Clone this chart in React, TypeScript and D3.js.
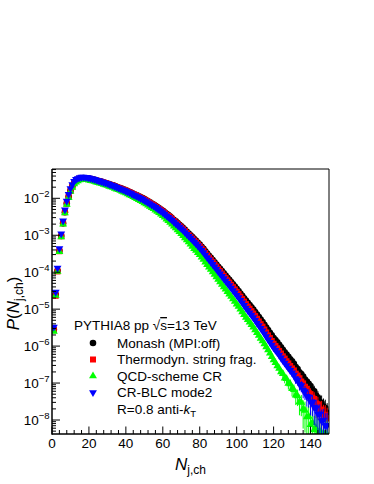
import React from 'react';
import * as d3 from 'd3';

// P(N_j,ch), bins N = 1 .. 149
const monash = [
  2.8e-6, 2.5e-5, 1.1e-4, 3.8e-4, 9.5e-4, 2.1e-3, 4.2e-3, 7.2e-3, 1.1e-2, 1.6e-2,
  2.1e-2, 2.6e-2, 2.95e-2, 3.2e-2, 3.4e-2, 3.5e-2, 3.55e-2, 3.5e-2, 3.47e-2, 3.4e-2,
  3.3e-2, 3.24e-2, 3.16e-2, 3.05e-2, 2.95e-2, 2.88e-2, 2.79e-2, 2.69e-2, 2.6e-2, 2.51e-2,
  2.4e-2, 2.32e-2, 2.24e-2, 2.14e-2, 2.04e-2, 1.97e-2, 1.88e-2, 1.8e-2, 1.72e-2, 1.64e-2,
  1.55e-2, 1.48e-2, 1.41e-2, 1.33e-2, 1.26e-2, 1.2e-2, 1.14e-2, 1.07e-2, 1.01e-2, 9.5e-3,
  8.9e-3, 8.3e-3, 7.8e-3, 7.2e-3, 6.8e-3, 6.3e-3, 5.8e-3, 5.4e-3, 5.0e-3, 4.6e-3,
  4.2e-3, 3.8e-3, 3.5e-3, 3.2e-3, 2.9e-3, 2.6e-3, 2.37e-3, 2.14e-3, 1.93e-3, 1.74e-3,
  1.56e-3, 1.4e-3, 1.25e-3, 1.12e-3, 1.0e-3, 8.9e-4, 7.9e-4, 7.1e-4, 6.3e-4, 5.6e-4,
  4.9e-4, 4.3e-4, 3.7e-4, 3.2e-4, 2.8e-4, 2.45e-4, 2.14e-4, 1.86e-4, 1.62e-4, 1.41e-4,
  1.23e-4, 1.07e-4, 9.3e-5, 8.1e-5, 7.1e-5, 6.2e-5, 5.4e-5, 4.7e-5, 4.1e-5, 3.55e-5,
  3.1e-5, 2.66e-5, 2.3e-5, 1.97e-5, 1.7e-5, 1.48e-5, 1.29e-5, 1.12e-5, 9.7e-6, 8.3e-6,
  7.1e-6, 6.1e-6, 5.2e-6, 4.5e-6, 3.8e-6, 3.2e-6, 2.7e-6, 2.3e-6, 1.95e-6, 1.66e-6,
  1.45e-6, 1.26e-6, 1.08e-6, 9.3e-7, 7.9e-7, 6.8e-7, 5.9e-7, 5.1e-7, 4.4e-7, 3.9e-7,
  3.3e-7, 2.7e-7, 2.4e-7, 1.95e-7, 1.75e-7, 1.5e-7, 1.25e-7, 1.1e-7, 9.5e-8, 8.3e-8,
  6.6e-8, 6.0e-8, 4.6e-8, 4.0e-8, 3.1e-8, 2.9e-8, 2.3e-8, 2.1e-8, 1.6e-8,
];

const thermodyn = [
  2.7e-6, 2.3e-5, 1.05e-4, 3.7e-4, 9.4e-4, 2.1e-3, 4.2e-3, 7.2e-3, 1.1e-2, 1.6e-2,
  2.1e-2, 2.6e-2, 2.95e-2, 3.2e-2, 3.4e-2, 3.5e-2, 3.55e-2, 3.5e-2, 3.46e-2, 3.39e-2,
  3.27e-2, 3.2e-2, 3.13e-2, 3.02e-2, 2.92e-2, 2.85e-2, 2.76e-2, 2.66e-2, 2.57e-2, 2.46e-2,
  2.35e-2, 2.27e-2, 2.2e-2, 2.1e-2, 2.0e-2, 1.93e-2, 1.84e-2, 1.76e-2, 1.69e-2, 1.61e-2,
  1.52e-2, 1.45e-2, 1.38e-2, 1.3e-2, 1.23e-2, 1.16e-2, 1.1e-2, 1.03e-2, 9.75e-3, 9.2e-3,
  8.6e-3, 8.0e-3, 7.5e-3, 6.95e-3, 6.55e-3, 6.0e-3, 5.55e-3, 5.15e-3, 4.78e-3, 4.4e-3,
  4.0e-3, 3.62e-3, 3.33e-3, 3.05e-3, 2.76e-3, 2.44e-3, 2.21e-3, 2.0e-3, 1.8e-3, 1.62e-3,
  1.45e-3, 1.3e-3, 1.16e-3, 1.02e-3, 9.1e-4, 8.1e-4, 7.2e-4, 6.45e-4, 5.7e-4, 5.1e-4,
  4.44e-4, 3.88e-4, 3.32e-4, 2.86e-4, 2.49e-4, 2.17e-4, 1.89e-4, 1.63e-4, 1.42e-4, 1.23e-4,
  1.07e-4, 9.2e-5, 8.0e-5, 6.9e-5, 6.0e-5, 5.25e-5, 4.55e-5, 3.94e-5, 3.42e-5, 2.95e-5,
  2.56e-5, 2.18e-5, 1.87e-5, 1.6e-5, 1.37e-5, 1.18e-5, 1.03e-5, 8.85e-6, 7.6e-6, 6.5e-6,
  5.5e-6, 4.65e-6, 3.93e-6, 3.37e-6, 2.81e-6, 2.34e-6, 1.95e-6, 1.65e-6, 1.38e-6, 1.16e-6,
  1.01e-6, 8.7e-7, 7.4e-7, 6.3e-7, 5.3e-7, 4.6e-7, 3.9e-7, 3.4e-7, 2.9e-7, 2.5e-7,
  2.2e-7, 1.8e-7, 1.6e-7, 1.35e-7, 1.1e-7, 9.8e-8, 7.9e-8, 7.0e-8, 5.4e-8, 5.0e-8,
  4.0e-8, 3.7e-8, 2.8e-8, 2.6e-8, 1.9e-8, 1.9e-8, 1.4e-8, 1.35e-8, 1.1e-8,
];

const qcdCR = [
  2.5e-6, 2.35e-5, 1.04e-4, 3.6e-4, 9.0e-4, 2.0e-3, 4.0e-3, 6.8e-3, 1.04e-2, 1.52e-2,
  1.97e-2, 2.43e-2, 2.74e-2, 2.96e-2, 3.13e-2, 3.19e-2, 3.23e-2, 3.19e-2, 3.16e-2, 3.09e-2,
  3.0e-2, 2.93e-2, 2.85e-2, 2.74e-2, 2.64e-2, 2.57e-2, 2.48e-2, 2.38e-2, 2.3e-2, 2.21e-2,
  2.1e-2, 2.03e-2, 1.95e-2, 1.86e-2, 1.77e-2, 1.7e-2, 1.62e-2, 1.54e-2, 1.47e-2, 1.39e-2,
  1.31e-2, 1.24e-2, 1.17e-2, 1.1e-2, 1.03e-2, 9.8e-3, 9.2e-3, 8.6e-3, 8.05e-3, 7.5e-3,
  6.99e-3, 6.47e-3, 6.05e-3, 5.54e-3, 5.2e-3, 4.79e-3, 4.38e-3, 4.05e-3, 3.73e-3, 3.4e-3,
  3.06e-3, 2.73e-3, 2.48e-3, 2.23e-3, 1.99e-3, 1.75e-3, 1.57e-3, 1.4e-3, 1.24e-3, 1.1e-3,
  9.7e-4, 8.5e-4, 7.45e-4, 6.55e-4, 5.7e-4, 5.0e-4, 4.35e-4, 3.85e-4, 3.37e-4, 2.95e-4,
  2.54e-4, 2.2e-4, 1.86e-4, 1.59e-4, 1.37e-4, 1.18e-4, 1.01e-4, 8.65e-5, 7.4e-5, 6.35e-5,
  5.45e-5, 4.68e-5, 4.0e-5, 3.44e-5, 2.97e-5, 2.55e-5, 2.19e-5, 1.88e-5, 1.61e-5, 1.37e-5,
  1.18e-5, 9.95e-6, 8.45e-6, 7.1e-6, 6.0e-6, 5.2e-6, 4.45e-6, 3.8e-6, 3.23e-6, 2.72e-6,
  2.29e-6, 1.93e-6, 1.62e-6, 1.38e-6, 1.14e-6, 9.45e-7, 7.8e-7, 6.4e-7, 5.2e-7, 4.2e-7,
  3.55e-7, 2.9e-7, 2.5e-7, 2.0e-7, 1.8e-7, 1.35e-7, 1.3e-7, 9.8e-8, 9.4e-8, 7.0e-8,
  6.6e-8, 4.7e-8, 4.5e-8, 3.1e-8, 3.0e-8, 2.0e-8, 1.8e-8, 1.2e-8, 1.25e-8, 7.5e-9,
  8.5e-9, 5.5e-9, 6.0e-9, 4.5e-9, 5.0e-9, 4.0e-9, 4.5e-9, 3.5e-9, 4.0e-9,
];

const blcMode2 = [
  3.3e-6, 2.9e-5, 1.3e-4, 4.4e-4, 1.1e-3, 2.45e-3, 4.9e-3, 8.4e-3, 1.28e-2, 1.85e-2,
  2.35e-2, 2.9e-2, 3.25e-2, 3.45e-2, 3.64e-2, 3.74e-2, 3.78e-2, 3.72e-2, 3.68e-2, 3.57e-2,
  3.43e-2, 3.35e-2, 3.25e-2, 3.13e-2, 3.01e-2, 2.92e-2, 2.82e-2, 2.7e-2, 2.6e-2, 2.51e-2,
  2.39e-2, 2.3e-2, 2.21e-2, 2.1e-2, 1.99e-2, 1.91e-2, 1.81e-2, 1.73e-2, 1.65e-2, 1.57e-2,
  1.48e-2, 1.41e-2, 1.34e-2, 1.25e-2, 1.19e-2, 1.12e-2, 1.07e-2, 9.96e-3, 9.4e-3, 8.75e-3,
  8.2e-3, 7.6e-3, 7.15e-3, 6.6e-3, 6.2e-3, 5.72e-3, 5.25e-3, 4.87e-3, 4.5e-3, 4.1e-3,
  3.73e-3, 3.36e-3, 3.08e-3, 2.81e-3, 2.54e-3, 2.27e-3, 2.06e-3, 1.85e-3, 1.67e-3, 1.5e-3,
  1.34e-3, 1.19e-3, 1.06e-3, 9.45e-4, 8.4e-4, 7.45e-4, 6.6e-4, 5.85e-4, 5.15e-4, 4.53e-4,
  3.93e-4, 3.42e-4, 2.92e-4, 2.5e-4, 2.17e-4, 1.88e-4, 1.63e-4, 1.4e-4, 1.21e-4, 1.04e-4,
  9.0e-5, 7.76e-5, 6.7e-5, 5.77e-5, 5.0e-5, 4.33e-5, 3.73e-5, 3.2e-5, 2.78e-5, 2.38e-5,
  2.06e-5, 1.75e-5, 1.49e-5, 1.27e-5, 1.08e-5, 9.3e-6, 8.0e-6, 6.9e-6, 5.9e-6, 5.0e-6,
  4.2e-6, 3.6e-6, 3.03e-6, 2.6e-6, 2.17e-6, 1.81e-6, 1.51e-6, 1.27e-6, 1.07e-6, 9.0e-7,
  7.75e-7, 6.7e-7, 5.7e-7, 4.8e-7, 4.1e-7, 3.5e-7, 3.0e-7, 2.55e-7, 2.2e-7, 1.9e-7,
  1.65e-7, 1.3e-7, 1.2e-7, 9.3e-8, 8.6e-8, 6.4e-8, 5.9e-8, 4.4e-8, 4.2e-8, 3.1e-8,
  3.0e-8, 2.2e-8, 2.1e-8, 1.45e-8, 1.45e-8, 9.5e-9, 1.0e-8, 7.0e-9, 7.2e-9,
];

const seriesNames = ['Monash (MPI:off)', 'Thermodyn. string frag.', 'QCD-scheme CR', 'CR-BLC mode2'];
const seriesColors = ['#000000', '#ff0000', '#00ff00', '#0000ff'];
const xTicks = [0, 20, 40, 60, 80, 100, 120, 140];
const yDecades = [-8, -7, -6, -5, -4, -3, -2];
const nEvents = 1e8; // sets the size of the statistical error bars

const font = '"Liberation Sans", Arial, Helvetica, sans-serif';

export default function App() {
  const W = 374;
  const H = 484;
  const left = 52, right = 329, top = 169, bottom = 434;

  const x = d3.scaleLinear().domain([0, 150]).range([left, right]);
  const y = d3.scaleLog().domain([4.18e-9, 0.0621]).range([bottom, top]);
  const [yMin, yMax] = y.domain();

  const shapes = [
    { path: d3.symbol().type(d3.symbolCircle).size(34)(), rot: 0 },
    { path: d3.symbol().type(d3.symbolSquare).size(36)(), rot: 0 },
    { path: d3.symbol().type(d3.symbolTriangle).size(27)(), rot: 0 },
    { path: d3.symbol().type(d3.symbolTriangle).size(27)(), rot: 180 },
  ];
  const allSeries = [monash, thermodyn, qcdCR, blcMode2];

  // minor ticks
  const yMinor: number[] = [];
  for (let e = -9; e <= -1; e++) {
    for (let m = 2; m <= 9; m++) {
      const v = m * Math.pow(10, e);
      if (v > yMin && v < yMax) yMinor.push(v);
    }
  }
  const xMinor = d3.range(0, 150, 4).filter((v) => v % 20 !== 0);

  const legendRows = [347.5, 364, 380.5, 397];

  return (
    <svg width={W} height={H} style={{ position: 'absolute', left: 0, top: 0, background: '#fff' }} fontFamily={font}>
      <defs>
        <clipPath id="frame">
          <rect x={left} y={top} width={right - left} height={bottom - top} />
        </clipPath>
      </defs>

      {/* data */}
      <g clipPath="url(#frame)">
        {allSeries.map((vals, si) => (
          <g key={si}>
            {vals.map((p, i) => {
              const err = Math.sqrt(p / nEvents);
              return (
                <line key={'e' + i} x1={x(i + 1)} x2={x(i + 1)}
                  y1={y(Math.max(p - err, 1e-12))} y2={y(p + err)}
                  stroke={seriesColors[si]} strokeWidth={1} />
              );
            })}
            {vals.map((p, i) => (
              <path key={'m' + i} d={shapes[si].path}
                transform={`translate(${x(i + 1)},${y(p)}) rotate(${shapes[si].rot})`}
                fill={seriesColors[si]} />
            ))}
          </g>
        ))}
      </g>

      {/* frame */}
      <line x1={left} x2={right} y1={top} y2={top} stroke="#000" strokeWidth={1} />
      <line x1={right} x2={right} y1={top} y2={bottom} stroke="#000" strokeWidth={1} />
      <line x1={left} x2={left} y1={top} y2={bottom + 0.75} stroke="#000" strokeWidth={1.5} />
      <line x1={left} x2={right} y1={bottom} y2={bottom} stroke="#000" strokeWidth={1.5} />

      {/* y ticks */}
      {yDecades.map((e) => (
        <line key={'ym' + e} x1={left} x2={left + 8} y1={y(Math.pow(10, e))} y2={y(Math.pow(10, e))} stroke="#000" />
      ))}
      {yMinor.map((v, i) => (
        <line key={'yn' + i} x1={left} x2={left + 4} y1={y(v)} y2={y(v)} stroke="#000" />
      ))}
      {yDecades.map((e) => (
        <text key={'yl' + e} x={49.5} y={y(Math.pow(10, e)) + 5} textAnchor="end" fontSize={13.5}>
          10<tspan dy={-6} fontSize={9.5}>{'\u2212' + -e}</tspan>
        </text>
      ))}

      {/* x ticks */}
      {xTicks.map((v) => (
        <line key={'xm' + v} x1={x(v)} x2={x(v)} y1={bottom} y2={bottom - 7.5} stroke="#000" />
      ))}
      {xMinor.map((v) => (
        <line key={'xn' + v} x1={x(v)} x2={x(v)} y1={bottom} y2={bottom - 4} stroke="#000" />
      ))}
      {xTicks.map((v) => (
        <text key={'xl' + v} x={x(v)} y={448} textAnchor="middle" fontSize={13.5}>{v}</text>
      ))}

      {/* axis titles */}
      <text x={(left + right) / 2} y={470} textAnchor="middle" fontSize={17}>
        <tspan fontStyle="italic">N</tspan>
        <tspan fontSize={12} dy={4}>j,ch</tspan>
      </text>
      <text transform="translate(18.5,303.5) rotate(-90)" textAnchor="middle" fontSize={17}>
        <tspan fontStyle="italic">P</tspan>(<tspan fontStyle="italic">N</tspan>
        <tspan fontSize={12} dy={4}>j,ch</tspan>
        <tspan dy={-4}>)</tspan>
      </text>

      {/* legend */}
      <text x={74} y={330} fontSize={13.5}>
        PYTHIA8 pp {'\u221A'}<tspan textDecoration="overline">s</tspan>=13 TeV
      </text>
      {seriesNames.map((name, si) => (
        <g key={'lg' + si}>
          <path d={shapes[si].path}
            transform={`translate(93,${legendRows[si] - 4.5}) rotate(${shapes[si].rot})`}
            fill={seriesColors[si]} />
          <text x={117} y={legendRows[si]} fontSize={13.5}>{name}</text>
        </g>
      ))}
      <text x={117} y={413.5} fontSize={13.5}>
        R=0.8 anti-<tspan fontStyle="italic">k</tspan>
        <tspan fontSize={9.5} dy={3}>T</tspan>
      </text>
    </svg>
  );
}
